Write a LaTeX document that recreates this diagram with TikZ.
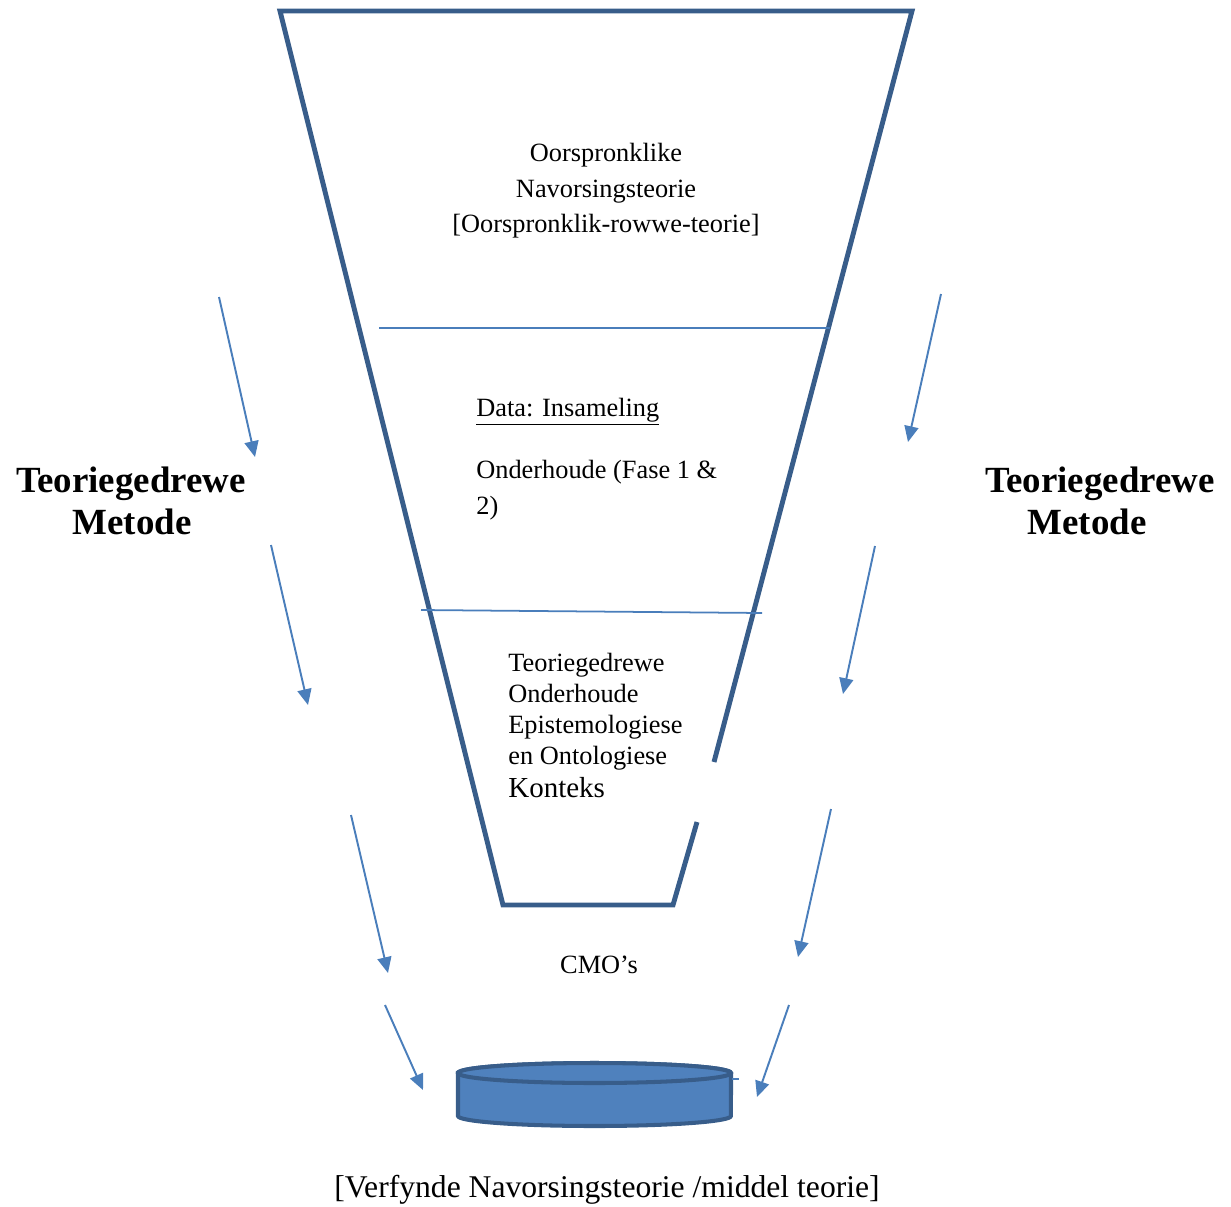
\documentclass[tikz,border=0pt]{standalone}
\usepackage{fontspec}
\setmainfont{Liberation Serif}
\usepackage{tikz}
\usetikzlibrary{arrows.meta, positioning}
\definecolor{funnelblue}{HTML}{385D8A}
\definecolor{arrowblue}{HTML}{4A7EBB}
\definecolor{cylblue}{HTML}{4F81BD}
\tikzset{>={Triangle[length=9pt, width=8pt]}}

\begin{document}
\begin{tikzpicture}[x=0.02cm, y=-0.02cm,
    funnel/.style={draw=funnelblue, line width=2.8pt},
    level/.style={draw=arrowblue, line width=1pt},
    arr/.style={->, draw=arrowblue, line width=1.1pt},
    txt/.style={inner sep=0pt, anchor=base west, font=\fontsize{15}{18}\selectfont},
    midtxt/.style={txt, anchor=base},
    bold/.style={inner sep=0pt, anchor=base, font=\fontsize{21}{24}\selectfont\bfseries}]
    \useasboundingbox (0,0) rectangle (1231,1207);

    % funnel, with the gap behind the text box
    \draw[funnel] (714,762)--(912,11)--(280,11)--(503,905)--(673,905)--(697,822);
    \draw[level] (379,328)--(830,328);
    \draw[level] (421,610)--(762,613);

    % text in the funnel
    \node[midtxt] (top1) at (606,161) {Oorspronklike};
    \node[midtxt] (top2) at (606,197) {Navorsingsteorie};
    \node[midtxt] (top3) at (606,232) {[Oorspronklik-rowwe-teorie]};

    \node[txt] (data) at (476,416) {\underline{Data: Insameling}};
    \node[txt] (int1) at (476,478) {Onderhoude (Fase 1 \&};
    \node[txt] (int2) at (476,514) {2)};

    \node[txt] (ctx1) at (508,671) {Teoriegedrewe};
    \node[txt] (ctx2) at (508,702) {Onderhoude};
    \node[txt] (ctx3) at (508,733) {Epistemologiese};
    \node[txt] (ctx4) at (508,764) {en Ontologiese};
    \node[txt, font=\fontsize{16.5}{19}\selectfont] (ctx5) at (508,797) {Konteks};

    \node[midtxt] (cmo) at (599,973) {CMO’s};

    % side labels
    \node[bold] (methl1) at (131,492) {Teoriegedrewe};
    \node[bold] (methl2) at (132,534) {Metode};
    \node[bold] (methr1) at (1100,492) {Teoriegedrewe};
    \node[bold] (methr2) at (1087,534) {Metode};

    % arrows on both sides
    \foreach \n/\xa/\ya/\xb/\yb in {l1/219/297/255/457, l2/271/545/308/705, l3/351/815/388/973, l4/385/1005/423/1090,
        r1/941/294/908/442, r2/875/546/843/694, r3/831/809/798/957, r4/789/1005/757/1097}
    {
        \coordinate (\n s) at (\xa,\ya);
        \coordinate (\n e) at (\xb,\yb);
        \draw[arr] (\n s)--(\n e);
    }

    % refined theory
    \filldraw[fill=cylblue, draw=funnelblue, line width=2.3pt] (458,1073)--(458,1116)
        arc[start angle=180, end angle=360, x radius=2.73cm, y radius=0.2cm]--(731,1073)
        arc[start angle=0, end angle=180, x radius=2.73cm, y radius=0.2cm]--cycle;
    \filldraw[fill=cylblue, draw=funnelblue, line width=2.3pt] (594.5,1073) ellipse[x radius=2.73cm, y radius=0.2cm];
    \draw[draw=arrowblue, line width=0.6pt] (732,1079)--(739,1079);

    \node[midtxt, font=\fontsize{18}{21}\selectfont] (refined) at (607,1197) {[Verfynde Navorsingsteorie /middel teorie]};
\end{tikzpicture}
\end{document}
